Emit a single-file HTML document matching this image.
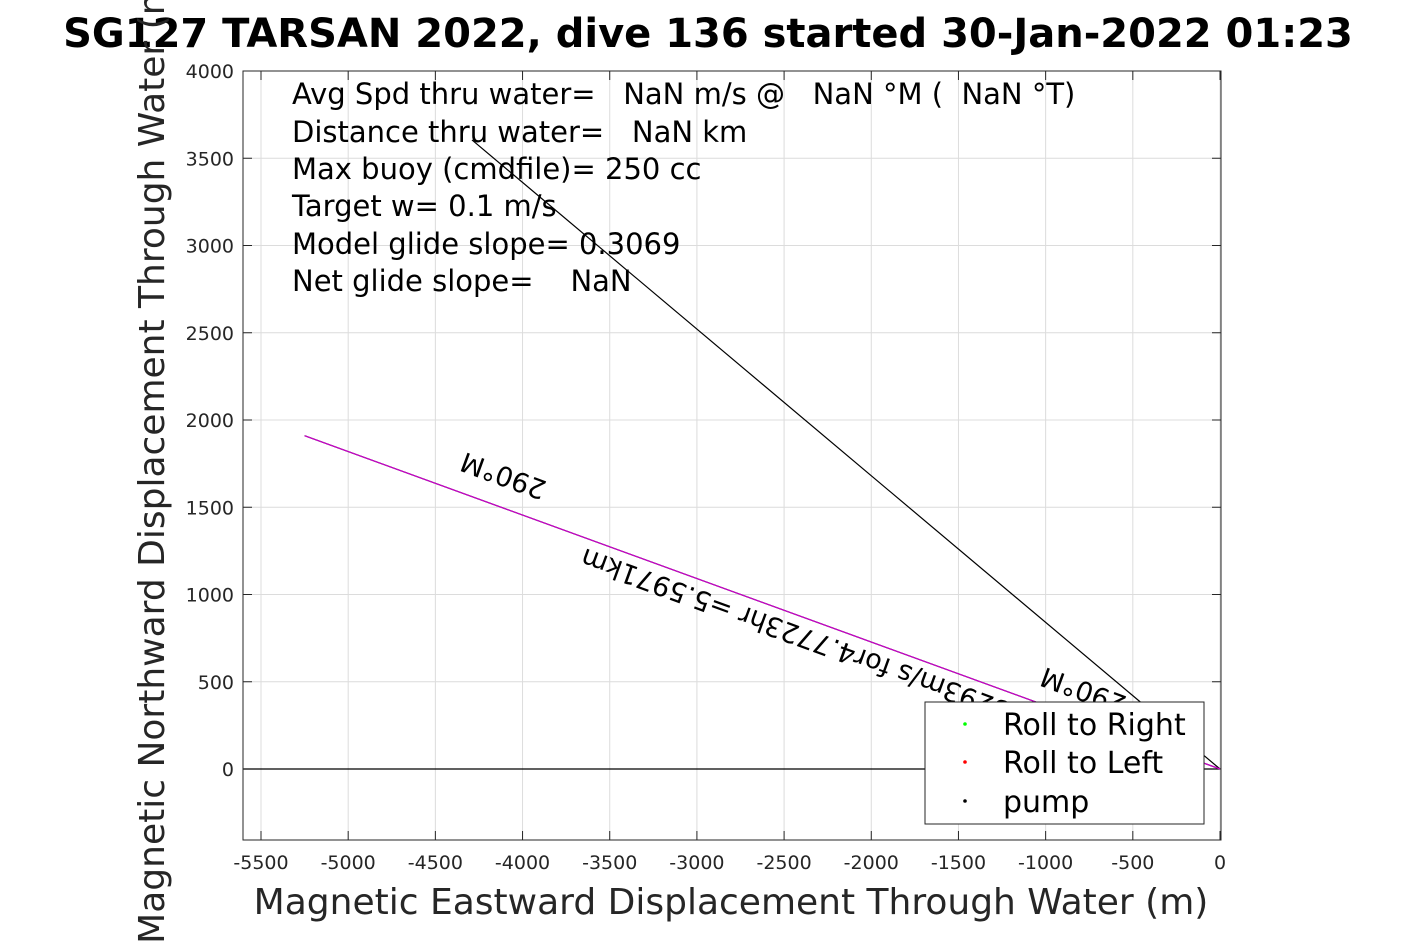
<!DOCTYPE html>
<html><head><meta charset="utf-8"><style>
html,body{margin:0;padding:0;background:#fff;}
svg{display:block;font-family:"DejaVu Sans","Liberation Sans",sans-serif;}
</style></head><body>
<svg id="chart" width="1417" height="945" viewBox="0 0 1417 945" xmlns="http://www.w3.org/2000/svg">
<rect width="1417" height="945" fill="#fff"/>
<text x="708" y="47" text-anchor="middle" font-size="40" font-weight="bold" fill="#000">SG127 TARSAN 2022, dive 136 started 30-Jan-2022 01:23</text>
<g id="grid"></g>
<g id="ticks"></g>
<g id="series"></g>
<rect x="243" y="71" width="978" height="769" fill="none" stroke="#262626" stroke-width="1"/>
<g font-size="29" fill="#000">
<text x="292" y="104" xml:space="preserve">Avg Spd thru water=   NaN m/s @   NaN °M (  NaN °T)</text>
<text x="292" y="142" xml:space="preserve">Distance thru water=   NaN km</text>
<text x="292" y="179">Max buoy (cmdfile)= 250 cc</text>
<text x="292" y="216">Target w= 0.1 m/s</text>
<text x="292" y="254">Model glide slope= 0.3069</text>
<text x="292" y="291" xml:space="preserve">Net glide slope=    NaN</text>
</g>
<text font-size="27" fill="#000" transform="translate(548,482) rotate(200)">290°M</text>
<text font-size="27" fill="#000" transform="translate(1128,697) rotate(200)">290°M</text>
<text font-size="27" fill="#000" text-anchor="end" transform="translate(585,548) rotate(200)">0.3293m/s for4.7723hr =5.5971km</text>
<g>
<rect x="925" y="702" width="279" height="122" fill="#fff" stroke="#262626" stroke-width="1"/>
<circle cx="965" cy="724" r="1.8" fill="#00ff00"/>
<text x="1003" y="735" font-size="30" fill="#000">Roll to Right</text>
<circle cx="965" cy="762" r="1.8" fill="#ff0000"/>
<text x="1003" y="773" font-size="30" fill="#000">Roll to Left</text>
<circle cx="965" cy="801" r="1.8" fill="#000"/>
<text x="1003" y="812" font-size="30" fill="#000">pump</text>
</g>
<text x="731" y="914" text-anchor="middle" font-size="36" fill="#262626">Magnetic Eastward Displacement Through Water (m)</text>
<text transform="translate(164,455) rotate(-90)" text-anchor="middle" font-size="36" fill="#262626">Magnetic Northward Displacement Through Water (m)</text>
</svg>
<script>
const xTicks=[-5500,-5000,-4500,-4000,-3500,-3000,-2500,-2000,-1500,-1000,-500,0];
const yTicks=[0,500,1000,1500,2000,2500,3000,3500,4000];
const headingLineX=[-5250,0];
const headingLineY=[1910,0];
const glideLineX=[-4290,0];
const glideLineY=[3605,0];
const trackX=[-5600,0];
const trackY=[0,0];
const L=243,R=1221,T=71,B=840;
function sx(v){return 1220+v*(959/5500);}
function sy(v){return 769-v*(698/4000);}
const NS="http://www.w3.org/2000/svg";
const grid=document.getElementById('grid'),ticks=document.getElementById('ticks'),ser=document.getElementById('series');
function mk(tag,attrs,parent){const e=document.createElementNS(NS,tag);for(const k in attrs)e.setAttribute(k,attrs[k]);parent.appendChild(e);return e;}
xTicks.forEach(v=>{const x=sx(v);
const g=mk('line',{x1:x,x2:x,y1:T,y2:B,stroke:'#dcdcdc','stroke-width':1},grid);


mk('line',{x1:x,x2:x,y1:B,y2:B-9,stroke:'#262626'},ticks);
mk('line',{x1:x,x2:x,y1:T,y2:T+9,stroke:'#262626'},ticks);
const t=mk('text',{x:x,y:869,'text-anchor':'middle','font-size':19,fill:'#262626'},ticks);
t.textContent=v;

});
yTicks.forEach(v=>{const y=sy(v);
const g=mk('line',{x1:L,x2:R,y1:y,y2:y,stroke:'#dcdcdc','stroke-width':1},grid);


mk('line',{x1:L,x2:L+9,y1:y,y2:y,stroke:'#262626'},ticks);
mk('line',{x1:R,x2:R-9,y1:y,y2:y,stroke:'#262626'},ticks);
const t=mk('text',{x:234,y:y+7,'text-anchor':'end','font-size':19,fill:'#262626'},ticks);
t.textContent=v;

});
function line(xs,ys,color,w,name){const pts=xs.map((x,i)=>Math.max(L,sx(x))+','+sy(ys[i])).join(' ');
const p=mk('polyline',{points:pts,fill:'none',stroke:color,'stroke-width':w},ser);

}
line(trackX,trackY,'#000',1.2,'track-line');
line(glideLineX,glideLineY,'#000',1.2,'glide-line');
line(headingLineX,headingLineY,'#000',1.2,'heading-line-shadow');
line(headingLineX,headingLineY,'#cc00cc',1.2,'heading-line');
</script>
</body></html>
